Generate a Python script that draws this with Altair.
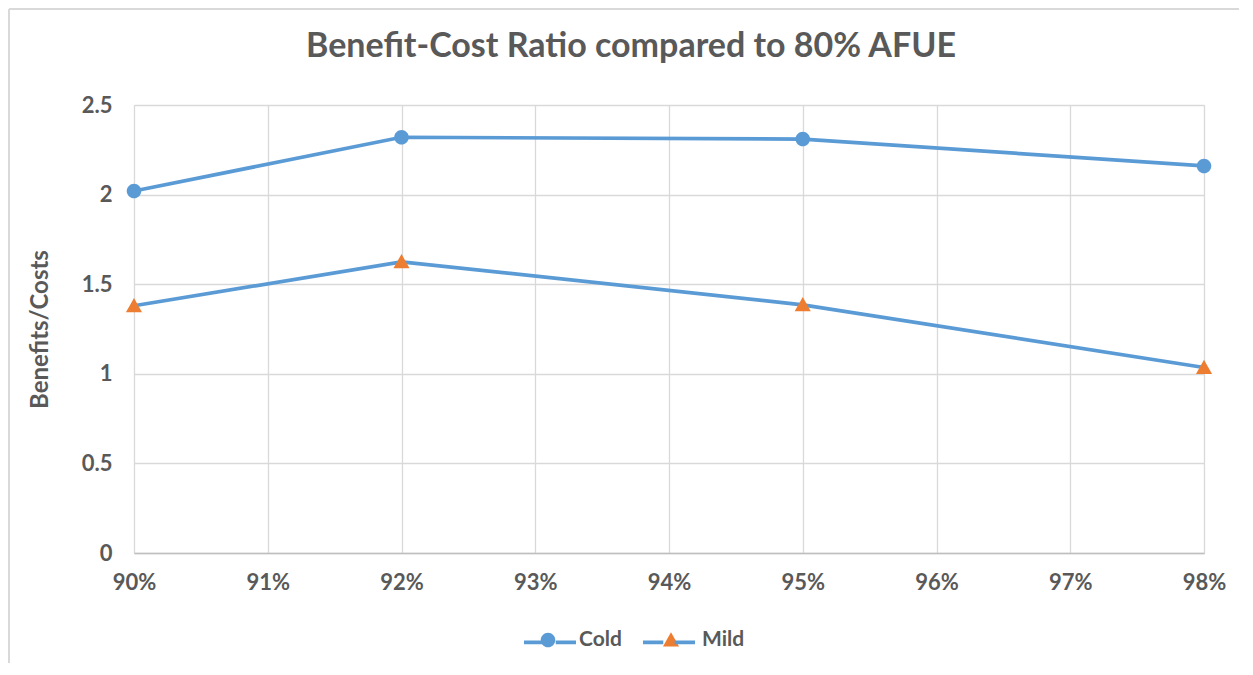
import altair as alt
import pandas as pd

# ---- data ----
afue = [90, 92, 95, 98]
cold = [2.02, 2.32, 2.31, 2.16]
mild = [1.38, 1.625, 1.385, 1.035]
series = ["Cold", "Mild"]
x_ticks = [90, 91, 92, 93, 94, 95, 96, 97, 98]
y_ticks = [0, 0.5, 1, 1.5, 2, 2.5]

rows = []
for name, vals in zip(series, [cold, mild]):
    for a, v in zip(afue, vals):
        rows.append({"afue": a, "ratio": v, "series": name, "series2": name})
df = pd.DataFrame(rows)

BLUE = "#5B9BD5"
ORANGE = "#ED7D31"
TEXT = "#595959"
GRID = "#D9D9D9"
FONT = "Lato"

# marker shapes (invisible move-to points widen the symbol box to the full legend line)
CIRCLE = "M-1,0 M1,0 M0.28,0 A0.28,0.28 0 1,1 -0.28,0 A0.28,0.28 0 1,1 0.28,0 Z"
TRI = "M-1,0 M1,0 M0,-0.3 L0.31,0.25 L-0.31,0.25 Z"
LINE_SYM = "M-1,0 L-0.22,0 M0.22,0 L1,0"
SYM_SIZE = 2704

legend_common = dict(
    orient="none", legendY=509, direction="horizontal",
    padding=0, title=None, symbolSize=SYM_SIZE,
)

x_enc = alt.X("afue:Q", scale=alt.Scale(domain=[90, 98], nice=False),
              axis=alt.Axis(values=x_ticks, labelExpr="datum.value + '%'",
                            title=None, ticks=False, domainColor="#BFBFBF",
                            domainWidth=1.3, gridColor=GRID, gridWidth=1.3,
                            labelFlush=False,
                            labelFont=FONT, labelFontSize=22, labelFontWeight="bold",
                            labelColor=TEXT, labelPadding=19))
y_enc = alt.Y("ratio:Q", scale=alt.Scale(domain=[0, 2.5], nice=False),
              axis=alt.Axis(values=y_ticks, format=".1~f", title="Benefits/Costs",
                            ticks=False, domain=False, gridColor=GRID, gridWidth=1.3,
                            labelFlush=False,
                            labelFont=FONT, labelFontSize=22, labelFontWeight="bold",
                            labelColor=TEXT, labelPadding=22,
                            titleFont=FONT, titleFontSize=24, titleFontWeight="bold",
                            titleColor=TEXT, titleAngle=270, titleX=-94, titleY=224,
                            titleAlign="center", titleBaseline="middle"))

lines = alt.Chart(df).mark_line(strokeWidth=3.7).encode(
    x=x_enc, y=y_enc,
    stroke=alt.Stroke("series:N", scale=alt.Scale(domain=series, range=[BLUE, BLUE]),
                      legend=alt.Legend(symbolType=LINE_SYM, symbolStrokeWidth=3.7,
                                        legendX=388, labelExpr="''", labelOffset=0,
                                        columnPadding=51, **legend_common)),
)

pt_legend = dict(symbolStrokeWidth=0, legendX=388, labelFont=FONT, labelFontSize=21,
                 labelFontWeight="bold", labelColor=TEXT, labelOffset=5,
                 columnPadding=23, **legend_common)

points = alt.Chart(df).mark_point(filled=True, size=SYM_SIZE, opacity=1).encode(
    x=x_enc, y=y_enc,
    fill=alt.Fill("series2:N", scale=alt.Scale(domain=series, range=[BLUE, ORANGE]),
                  legend=alt.Legend(**pt_legend)),
    shape=alt.Shape("series2:N", scale=alt.Scale(domain=series, range=[CIRCLE, TRI]),
                    legend=alt.Legend(**pt_legend)),
)

# chart-area frame (decoration along the top and left edges of the canvas)
frame_data = alt.Data(values=[{}])
frame_left = alt.Chart(frame_data).mark_rule(color=GRID, strokeWidth=2).encode(
    x=alt.value(-125), y=alt.value(-96), y2=alt.value(558))
frame_top = alt.Chart(frame_data).mark_rule(color=GRID, strokeWidth=2).encode(
    x=alt.value(-125), x2=alt.value(1105), y=alt.value(-96))

chart = alt.layer(frame_left, frame_top, lines, points).resolve_legend(
    stroke="independent").properties(
    width=1070, height=448,
    padding={"left": 126, "top": 97, "right": 35, "bottom": 110},
    autosize=alt.AutoSizeParams(type="none"),
    title=alt.TitleParams("Benefit-Cost Ratio compared to 80% AFUE", font=FONT,
                          fontSize=34, fontWeight="bold", color=TEXT,
                          anchor="middle", frame="group", dx=-38, offset=-56),
).configure_view(stroke=None).configure(background="white")

chart.save("out.html", embed_options={"renderer": "svg", "actions": False})
